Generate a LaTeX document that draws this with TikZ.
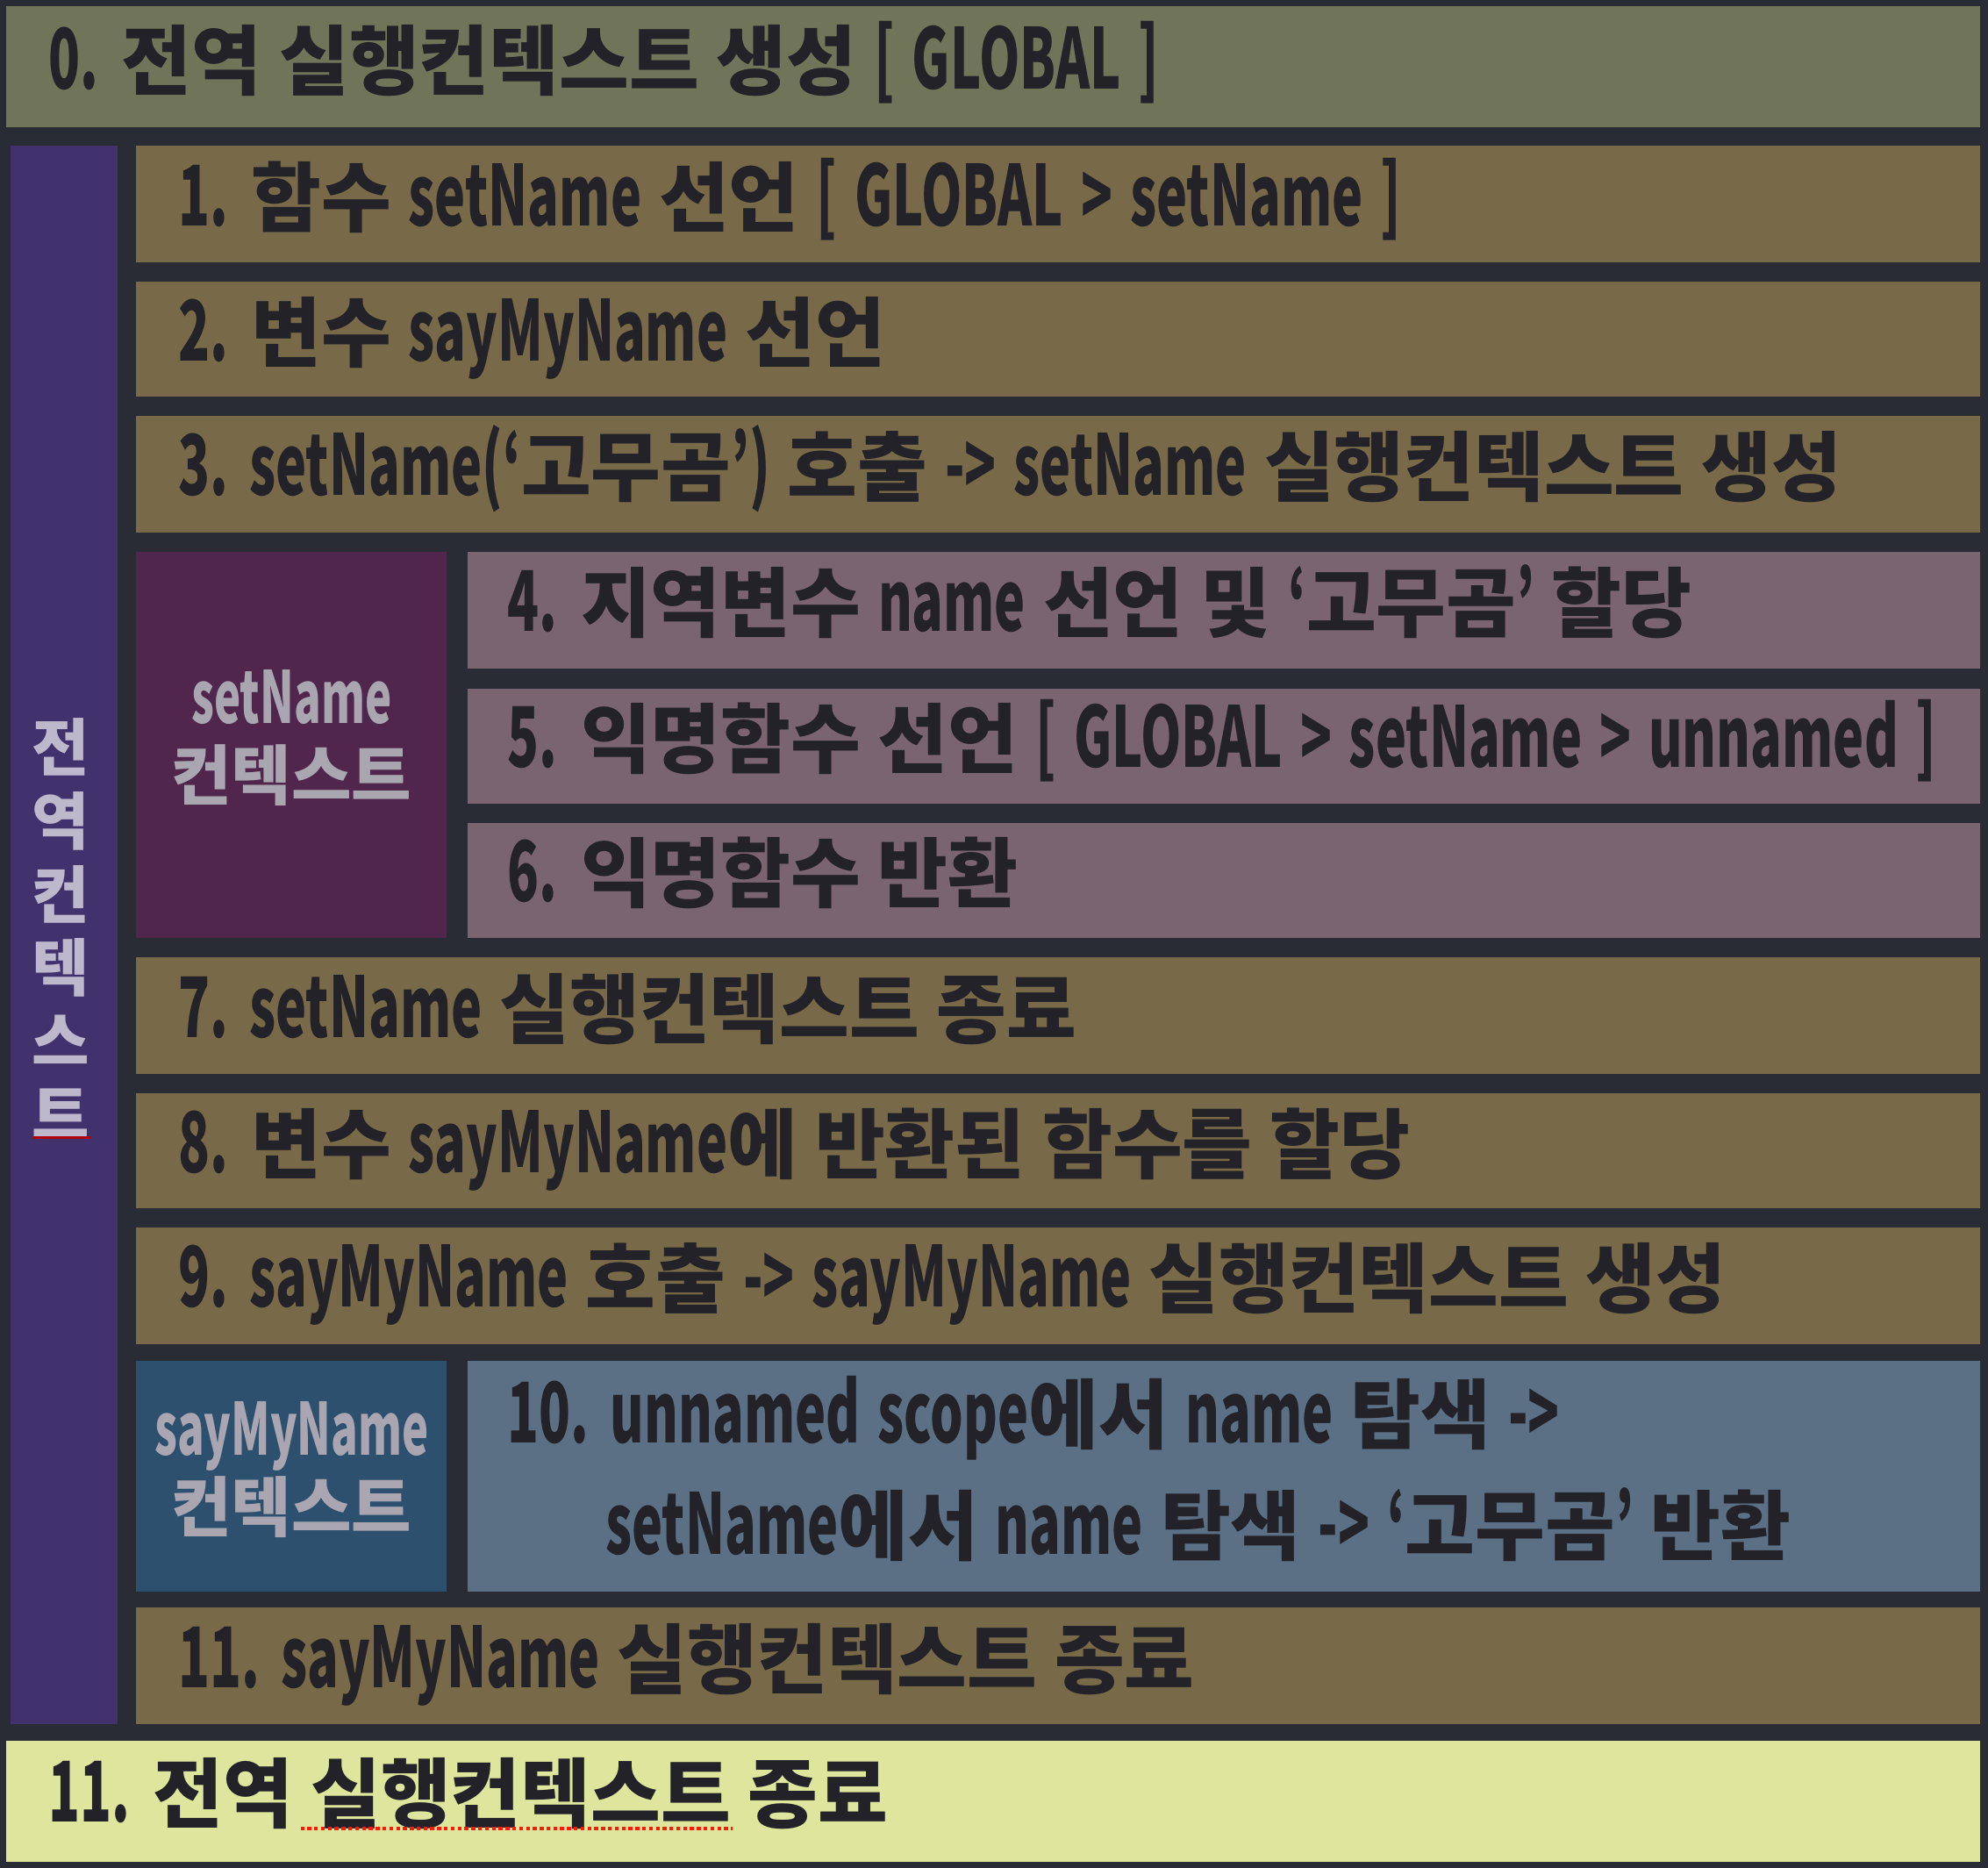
\documentclass[tikz,border=0pt]{standalone}
\usepackage{fontspec}
\setmainfont{Noto Sans CJK KR}
\newfontfamily\latf{Noto Sans CJK KR}[FakeStretch=0.62,Scale=1.1]
\newcommand\la[1]{{\latf #1}}
\newcommand\widesp{\spaceskip 0.23em\relax}
\definecolor{bgdark}{HTML}{2A2C35}
\definecolor{ctop}{HTML}{70755A}
\definecolor{cpurple}{HTML}{41316D}
\definecolor{cbrown}{HTML}{786A48}
\definecolor{cmagenta}{HTML}{51264C}
\definecolor{cpink}{HTML}{7A6470}
\definecolor{cnavy}{HTML}{2D506E}
\definecolor{csteel}{HTML}{5B7085}
\definecolor{cbottom}{HTML}{DDE69C}
\definecolor{ctext}{HTML}{222228}
\definecolor{clabel}{HTML}{A9A6B2}
\definecolor{cvert}{HTML}{BDB8CC}
\tikzset{
  txt/.style={anchor=west,inner sep=0pt,text=ctext,font=\fontsize{25.6}{30}\selectfont\bfseries,execute at begin node={\widesp},text height=0.78em,text depth=0.02em},
  ctxlabel/.style={align=center,inner sep=0pt,text=clabel,font=\fontsize{22}{25.6}\selectfont\bfseries},
}
\begin{document}
\begin{tikzpicture}[x=0.15mm,y=-0.15mm]
\fill[bgdark] (0,0) rectangle (1568,1473);
\useasboundingbox (0,0) rectangle (1568,1473);
% boxes
\fill[ctop] (5,5) rectangle (1562,100);
\fill[cpurple] (8,115) rectangle (93,1360);
\fill[cbrown] (107,115) rectangle (1562,207);
\fill[cbrown] (107,222) rectangle (1562,313);
\fill[cbrown] (107,328) rectangle (1562,420);
\fill[cmagenta] (107,435) rectangle (352,740);
\fill[cpink] (369,435) rectangle (1562,527);
\fill[cpink] (369,543) rectangle (1562,634);
\fill[cpink] (369,649) rectangle (1562,740);
\fill[cbrown] (107,755) rectangle (1562,847);
\fill[cbrown] (107,862) rectangle (1562,953);
\fill[cbrown] (107,968) rectangle (1562,1060);
\fill[cnavy] (107,1073) rectangle (352,1255);
\fill[csteel] (369,1073) rectangle (1562,1255);
\fill[cbrown] (107,1268) rectangle (1562,1360);
\fill[cbottom] (5,1373) rectangle (1562,1468);
% texts
\node[txt] (t0) at (38,61) {\la{0.} 전역 실행컨텍스트 생성 \la{[ GLOBAL ]}};
\node[txt] (t1) at (140,169) {\la{1.} 함수 \la{setName} 선언 \la{[ GLOBAL > setName ]}};
\node[txt] (t2) at (140,276) {\la{2.} 변수 \la{sayMyName} 선언};
\node[txt] (t3) at (140,382) {\la{3. setName(‘}고무곰\la{’)} 호출 \la{-> setName} 실행컨텍스트 생성};
\node[txt] (t4) at (400,489) {\la{4.} 지역변수 \la{name} 선언 및 \la{‘}고무곰\la{’} 할당};
\node[txt] (t5) at (400,596) {\la{5.} 익명함수 선언 \la{[ GLOBAL > setName > unnamed ]}};
\node[txt] (t6) at (400,702) {\la{6.} 익명함수 반환};
\node[txt] (t7) at (140,809) {\la{7. setName} 실행컨텍스트 종료};
\node[txt] (t8) at (140,916) {\la{8.} 변수 \la{sayMyName}에 반환된 함수를 할당};
\node[txt] (t9) at (140,1022) {\la{9. sayMyName} 호출 \la{-> sayMyName} 실행컨텍스트 생성};
\node[txt] (t10a) at (400,1129) {\la{10. unnamed scope}에서 \la{name} 탐색 \la{->}};
\node[txt] (t10b) at (477,1217) {\la{setName}에서 \la{name} 탐색 \la{-> ‘}고무곰\la{’} 반환};
\node[txt] (t11) at (140,1322) {\la{11. sayMyName} 실행컨텍스트 종료};
\node[txt] (t12) at (38,1428) {\la{11.} 전역 실행컨텍스트 종료};
% context labels
\node[ctxlabel] (lset) at (230,582) {\la{setName}\\컨텍스트};
\node[ctxlabel] (lsay) at (230,1159) {\la{sayMyName}\\컨텍스트};
\node[inner sep=0pt,align=center,text=cvert,font=\fontsize{21}{24.7}\selectfont\bfseries] (lglob) at (48,732) {전\\역\\컨\\텍\\스\\트};
% spell-check marks
\draw[red!80!orange,densely dotted,line width=1.3pt] (237,1442) -- (578,1442);
\draw[red!70!black,line width=0.8pt] (26,897) -- (72,897);
\end{tikzpicture}
\end{document}
